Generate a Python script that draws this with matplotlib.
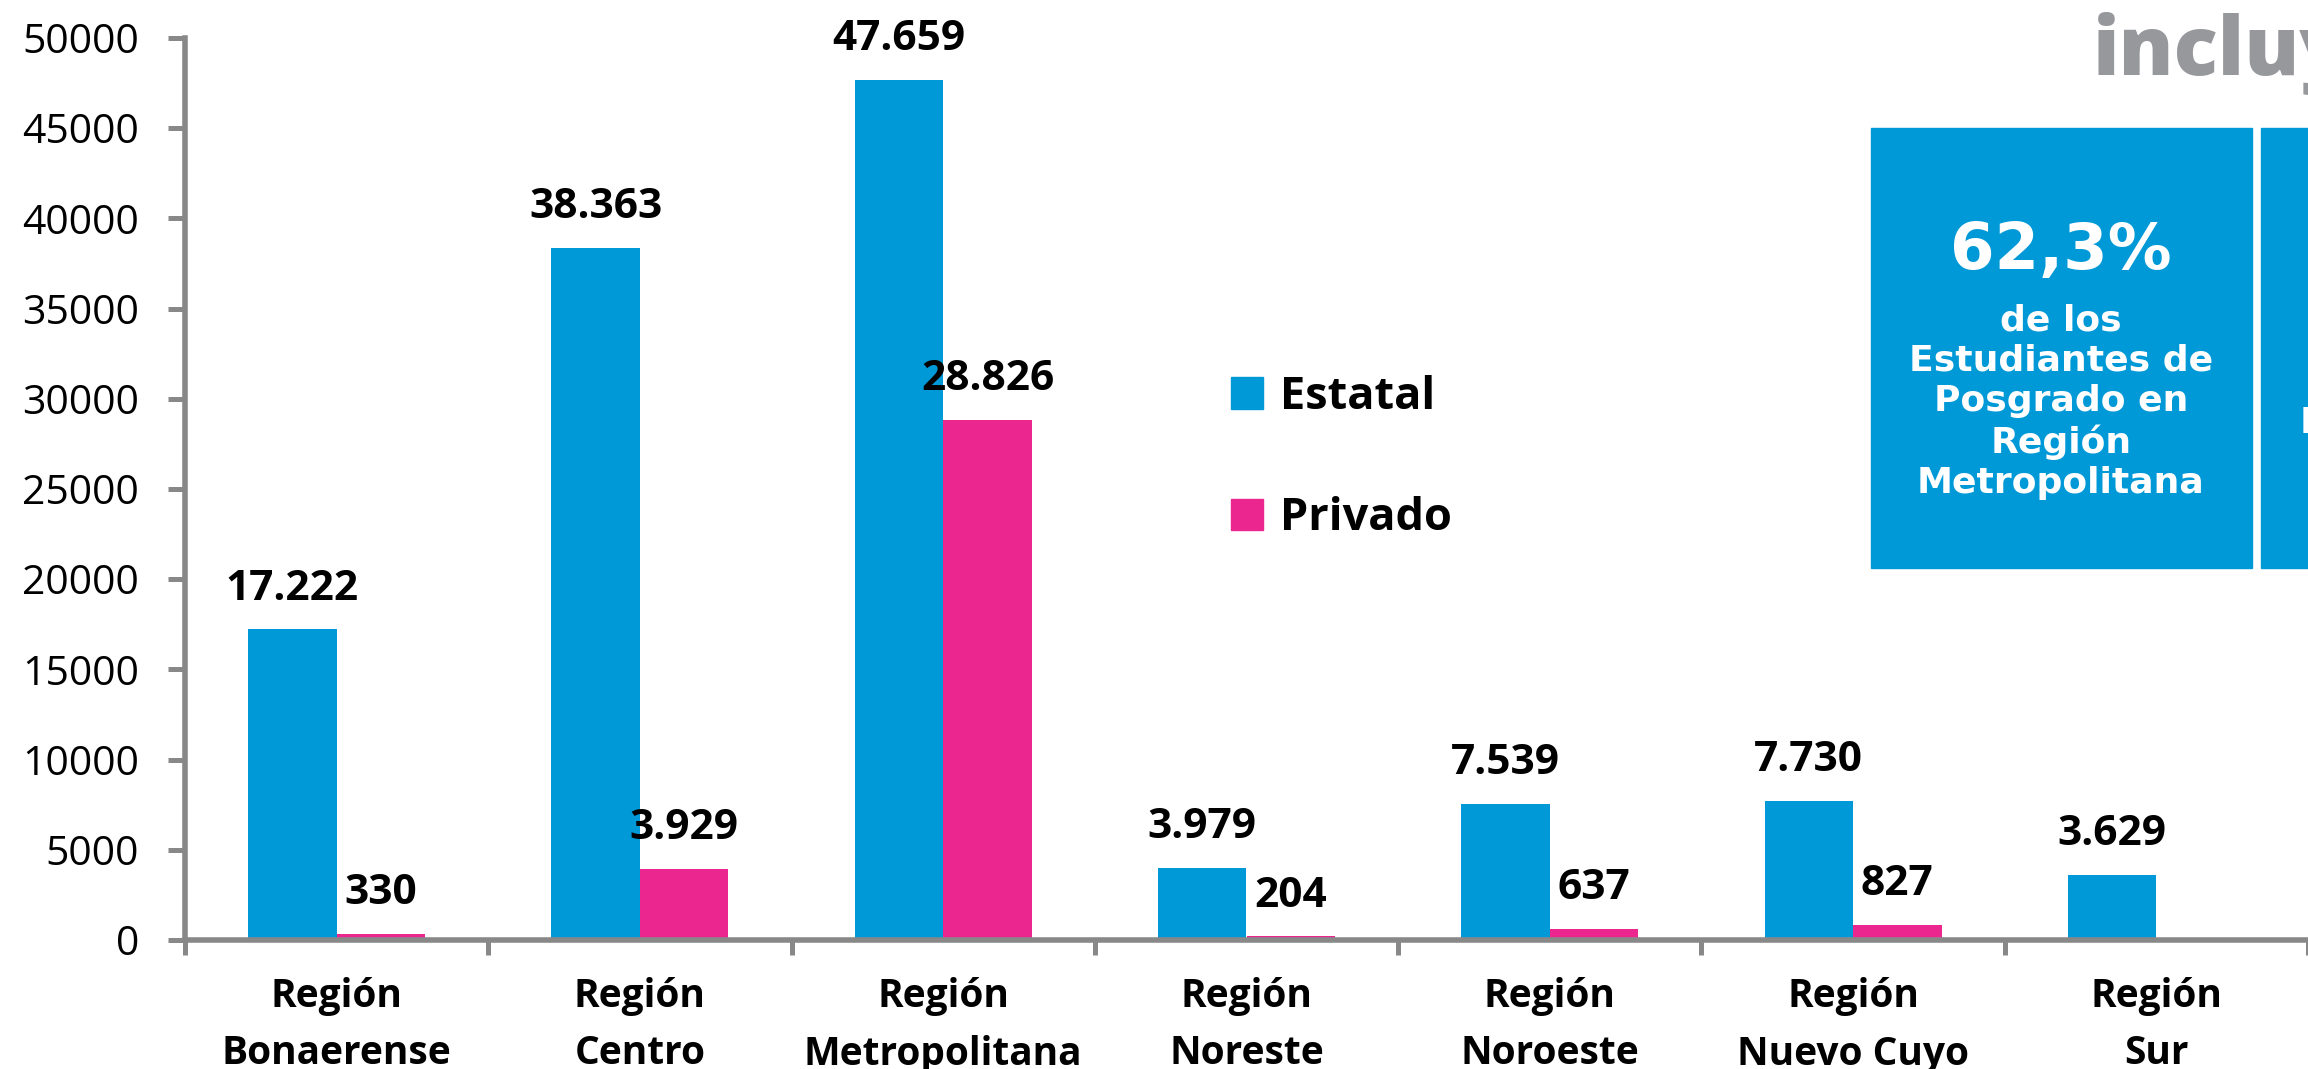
import matplotlib
matplotlib.use("Agg")
import matplotlib.pyplot as plt
from matplotlib.patches import Rectangle, Patch

# datos
regiones = ["Región\nBonaerense", "Región\nCentro", "Región\nMetropolitana",
            "Región\nNoreste", "Región\nNoroeste", "Región\nNuevo Cuyo", "Región\nSur"]
estatal = [17222, 38363, 47659, 3979, 7539, 7730, 3629]
privado = [330, 3929, 28826, 204, 637, 827, None]
yticks = [0, 5000, 10000, 15000, 20000, 25000, 30000, 35000, 40000, 45000, 50000]

AZUL = "#0099d8"
ROSA = "#ec268f"
GRIS = "#888888"
W, H = 2308, 1069

plt.rcParams['font.family'] = ['Open Sans', 'DejaVu Sans']

fig = plt.figure(figsize=(W / 100, H / 100), dpi=100)
ax = fig.add_axes([185 / W, 1 - 940 / H, 1 - 185 / W, (940 - 38) / H])

w = 0.292
x = list(range(len(regiones)))
ax.bar([i - w / 2 for i in x], estatal, width=w, color=AZUL)
priv_x = [i + w / 2 for i, v in zip(x, privado) if v is not None]
priv_v = [v for v in privado if v is not None]
ax.bar(priv_x, priv_v, width=w, color=ROSA)

def etiqueta(v):
    return f"{v:,}".replace(",", ".")

for i, v in zip(x, estatal):
    ax.annotate(etiqueta(v), (i - w / 2, v), xytext=(0, 29), textcoords="offset points",
                ha="center", va="center", fontsize=30.5, fontweight="bold")
for i, v in zip(priv_x, priv_v):
    ax.annotate(etiqueta(v), (i, v), xytext=(0, 29), textcoords="offset points",
                ha="center", va="center", fontsize=30.5, fontweight="bold")

ax.set_ylim(0, 50000)
ax.set_xlim(-0.5, 6.5 - 24 / 306.6)
ax.set_yticks(yticks)
ax.set_yticklabels([str(t) for t in yticks], fontsize=29.5)
ax.set_xticks([i - 0.5 for i in range(len(regiones) + 1)])
ax.set_xticklabels([])
ax.set_xticks(x, minor=True)
ax.set_xticklabels(regiones, minor=True, fontsize=28, fontweight="bold", linespacing=1.6)
ax.tick_params(axis="x", which="minor", length=0, pad=27)
ax.tick_params(axis="x", which="major", length=11, width=3.6, color=GRIS, direction="out")
ax.tick_params(axis="y", length=12, width=3.6, color=GRIS, direction="out", pad=21)
for s in ["top", "right"]:
    ax.spines[s].set_visible(False)
for s in ["left", "bottom"]:
    ax.spines[s].set_color(GRIS)
    ax.spines[s].set_linewidth(4)

handles = [Patch(color=AZUL, label="Estatal"), Patch(color=ROSA, label="Privado")]
ax.legend(handles=handles, loc="upper left", bbox_to_anchor=(1231 / W, 1 - 375 / H),
          bbox_transform=fig.transFigure, frameon=False, borderpad=0, borderaxespad=0,
          handlelength=0.7, handleheight=0.7, handletextpad=0.38, labelspacing=1.69,
          prop={"size": 32.5, "weight": "bold"})

# recuadros de la derecha
fig.patches.append(Rectangle((1871 / W, 1 - 568 / H), 381 / W, 440 / H,
                             transform=fig.transFigure, color=AZUL))
fig.patches.append(Rectangle((2261 / W, 1 - 568 / H), 200 / W, 440 / H,
                             transform=fig.transFigure, color=AZUL))
fig.text(2061 / W, 1 - 251 / H, "62,3%", color="white", fontsize=46,
         fontweight="bold", family="DejaVu Sans", ha="center", va="center")
fig.text(2061 / W, 1 - 402 / H, "de los\nEstudiantes de\nPosgrado en\nRegión\nMetropolitana",
         color="white", fontsize=26, fontweight="bold", family="DejaVu Sans",
         ha="center", va="center", linespacing=1.23)
fig.text(2300 / W, 1 - 423 / H, "Estudiantes", color="white", fontsize=26,
         fontweight="bold", family="DejaVu Sans", ha="left", va="center")
fig.text(2093 / W, 1 - 75 / H, "incluy", color="#97989c", fontsize=59,
         fontweight="heavy", family="Open Sans", ha="left", va="baseline")

fig.savefig("out.png", dpi=100)
